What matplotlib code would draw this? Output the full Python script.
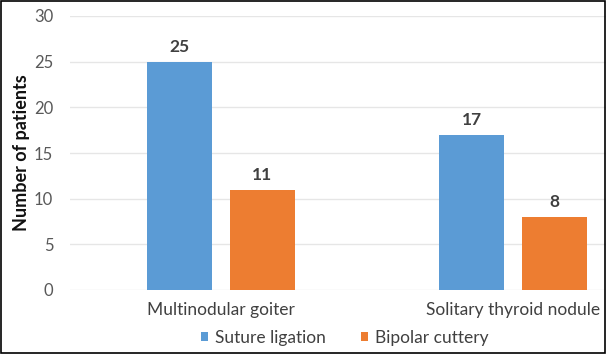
import matplotlib
matplotlib.use("Agg")
import matplotlib.pyplot as plt
import numpy as np
from matplotlib.patches import Rectangle

categories = ['Multinodular goiter', 'Solitary thyroid nodule']
suture = [25, 17]
bipolar = [11, 8]
series_names = ['Suture ligation', 'Bipolar cuttery']

plt.rcParams['font.family'] = ['Lato', 'DejaVu Sans']

fig = plt.figure(figsize=(6.06, 3.54), dpi=100)
ax = fig.add_axes([70 / 606, 1 - 290 / 354, 536 / 606, 274 / 354])

x = np.arange(len(categories))
w = 0.222
off = 0.142
b1 = ax.bar(x - off, suture, w, color='#5B9BD5', label=series_names[0], zorder=3)
b2 = ax.bar(x + off, bipolar, w, color='#ED7D31', label=series_names[1], zorder=3)

for bars, vals in ((b1, suture), (b2, bipolar)):
    for r, v in zip(bars, vals):
        ax.annotate(str(v), (r.get_x() + r.get_width() / 2, v), xytext=(0, 5),
                    textcoords='offset points', ha='center', va='bottom',
                    fontsize=12.5, color='#404040', fontweight='bold')

ax.set_ylim(0, 30)
ax.set_yticks(range(0, 31, 5))
ax.set_xlim(-0.516, 1.317)
ax.set_xticks(x)
ax.set_xticklabels(categories, fontsize=12.5, color='#404040')
ax.tick_params(axis='y', labelsize=12, labelcolor='#595959', length=0, pad=12)
ax.tick_params(axis='x', length=0, pad=9)
ax.grid(axis='y', color='#E6E6E6', linewidth=1, zorder=0)
for s in ax.spines.values():
    s.set_visible(False)

ax.set_ylabel('Number of patients', fontsize=13, fontweight='bold', color='#111111', labelpad=3)

fig.legend(handles=[b1, b2], loc='center', bbox_to_anchor=(345 / 606, 1 - 338 / 354),
           ncol=2, frameon=False, fontsize=12.5, handlelength=0.4, handleheight=0.4,
           columnspacing=2.0, handletextpad=0.4, labelcolor='#404040')

fig.patches.append(Rectangle((0.001, 0.002), 0.997, 0.996, transform=fig.transFigure,
                             fill=False, edgecolor='black', linewidth=1.2))

fig.savefig('out.png', dpi=100)
